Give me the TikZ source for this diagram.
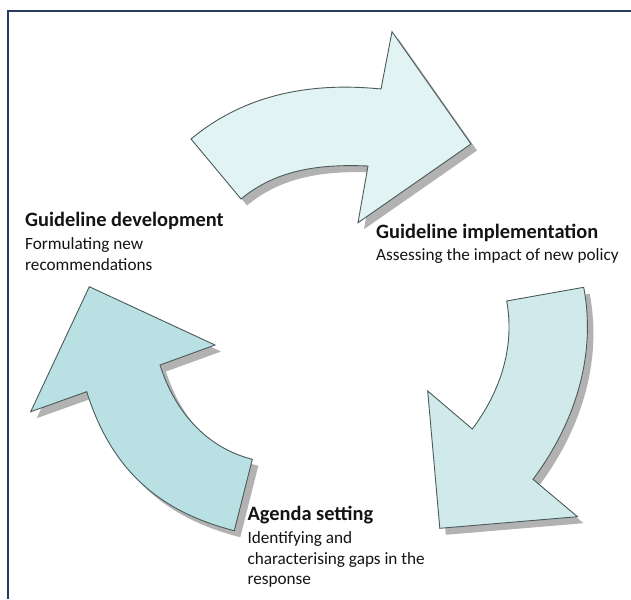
\documentclass[tikz,border=0pt]{standalone}
\usepackage{fontspec}
\setmainfont{Carlito}
\definecolor{frameblue}{RGB}{40,58,100}
\definecolor{edgecol}{RGB}{75,90,90}
\definecolor{topfill}{RGB}{226,243,243}
\definecolor{rightfill}{RGB}{208,233,235}
\definecolor{leftfill}{RGB}{185,224,227}
\definecolor{shadecol}{RGB}{178,178,178}
\definecolor{textcol}{RGB}{20,20,20}
\begin{document}
\begin{tikzpicture}[x=1pt,y=-1pt,
  arrowshape/.style={draw=edgecol, line width=0.9pt, line join=miter},
  shadowshape/.style={fill=shadecol, draw=none},
  toppath/.style={insert path={(191,139) .. controls (245,94) and (311,82) .. (381,89) -- (392,31.7) -- (471,144) -- (358,222.7) -- (368,166) .. controls (321,164) and (277,169) .. (241,199) -- cycle}},
  rightpath/.style={insert path={(583.7,287.3) .. controls (596.6,355.6) and (575,423) .. (533,479.3) -- (577.5,516.7) -- (439.8,528.3) -- (427.7,391) -- (472.3,429) .. controls (500.5,391.4) and (515,347) .. (506.7,301) -- cycle}},
  leftpath/.style={insert path={(234.3,530.7) .. controls (156.7,511) and (110.7,467.7) .. (86.7,391.7) -- (30.7,411.7) -- (89.3,286.7) -- (215,345) -- (160,365) .. controls (174.4,410.6) and (205.7,447.5) .. (252.3,459.3) -- cycle}},
  titletext/.style={font=\bfseries\fontsize{20.4}{24}\selectfont, text=textcol, inner sep=0pt, anchor=base west},
  desctext/.style={font=\fontsize{17.2}{20}\selectfont, text=textcol, inner sep=0pt, anchor=base west}
]
\useasboundingbox (0,0) rectangle (631,599);
\fill[white] (0,0) rectangle (631,599);
% frame
\draw[frameblue, line width=2pt] (7.5,599) -- (7.5,11.5) -- (631,11.5);
% shadows
\begin{scope}[shift={(6,6.5)}]
  \fill[shadowshape, toppath];
  \fill[shadowshape, rightpath];
  \fill[shadowshape, leftpath];
\end{scope}
% arrows
\draw[arrowshape, fill=topfill, toppath];
\draw[arrowshape, fill=rightfill, rightpath];
\draw[arrowshape, fill=leftfill, leftpath];
% texts
\node[titletext] (gdT) at (25,226) {Guideline development};
\node[desctext] (gdL1) at (25,249) {Formulating new};
\node[desctext] (gdL2) at (25,270.7) {recommendations};
\node[titletext] (giT) at (376,238) {Guideline implementation};
\node[desctext] (giL1) at (376,260) {Assessing the impact of new policy};
\node[titletext] (asT) at (247.3,520) {Agenda setting};
\node[desctext] (asL1) at (247.3,543) {Identifying and};
\node[desctext] (asL2) at (247.3,564) {characterising gaps in the};
\node[desctext] (asL3) at (247.3,584) {response};
\end{tikzpicture}
\end{document}
